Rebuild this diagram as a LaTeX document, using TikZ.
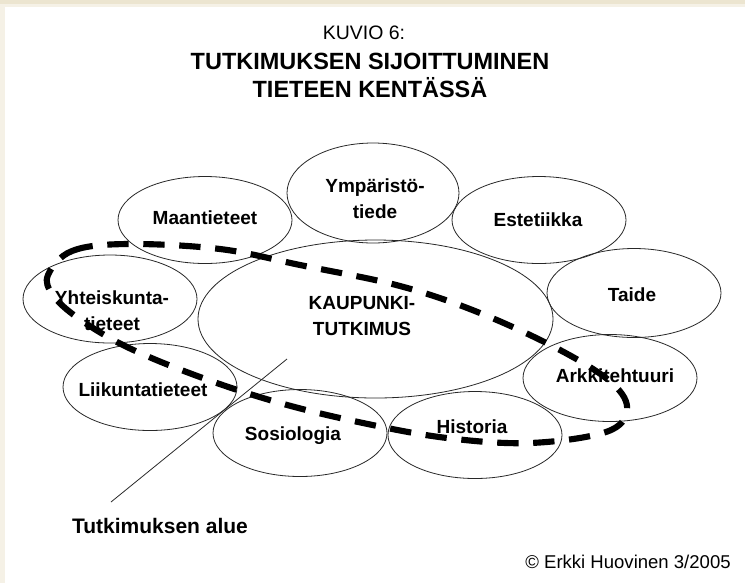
\documentclass[tikz,border=0pt]{standalone}
\usepackage{fontspec}
\setmainfont{Liberation Sans}
\usetikzlibrary{shapes.geometric}
\definecolor{framebeige}{RGB}{236,229,208}
\definecolor{framelight}{RGB}{245,241,230}
\definecolor{outline}{RGB}{40,40,40}
\tikzset{
  field/.style={draw=outline, line width=0.6pt, ellipse, inner sep=0pt,
    minimum width=130.5pt, minimum height=65.25pt},
  fieldtext/.style={font=\fontsize{14.25pt}{19.5pt}\selectfont\bfseries, align=center, inner sep=0pt},
  zone/.style={line width=4.6pt, dash pattern=on 16pt off 11pt, black},
  leader/.style={line width=0.6pt, outline},
}
\begin{document}
\begin{tikzpicture}[x=0.75pt,y=-0.75pt]
\useasboundingbox (0,0) rectangle (745,583);
\fill[white] (0,0) rectangle (745,583);
% frame
\fill[framelight] (0,0) rectangle (5,583);
\fill[framebeige] (0,0) rectangle (745,4);
\fill[framelight] (0,4) rectangle (745,7);

% title
\node[font=\fontsize{14.6pt}{16pt}\selectfont, inner sep=0pt] (kuvio) at (364,33) {KUVIO 6:};
\node[font=\fontsize{17.6pt}{21.5pt}\selectfont\bfseries, inner sep=0pt, align=center] (title) at (370,75.5)
  {TUTKIMUKSEN SIJOITTUMINEN\\TIETEEN KENTÄSSÄ};

% ellipses
\node[field, minimum width=266.25pt, minimum height=118.5pt] (ekaup) at (375.5,319) {};
\node[field, minimum width=129pt, minimum height=75pt] (eymp) at (373,193) {};
\node[field] (emaa) at (205,220) {};
\node[field] (eest) at (539,220) {};
\node[field, minimum height=66.75pt] (etai) at (634,293) {};
\node[field, minimum height=66pt] (eyht) at (110,299) {};
\node[field] (elii) at (150,387) {};
\node[field] (esos) at (300,433) {};
\node[field] (ehis) at (475,435) {};
\node[field] (eark) at (610,378) {};

% texts
\node[fieldtext] (tkaup) at (362,316) {KAUPUNKI-\\TUTKIMUS};
\node[fieldtext] (tymp) at (375,199) {Ympäristö-\\tiede};
\node[fieldtext] (tmaa) at (205,218) {Maantieteet};
\node[fieldtext] (test) at (538,220) {Estetiikka};
\node[fieldtext] (ttai) at (632,295) {Taide};
\node[fieldtext] (tyht) at (112,311) {Yhteiskunta-\\tieteet};
\node[fieldtext] (tlii) at (143,390) {Liikuntatieteet};
\node[fieldtext] (tsos) at (293,436) {Sosiologia};
\node[fieldtext] (this) at (472,427) {Historia};
\node[fieldtext] (tark) at (615,376) {Arkkitehtuuri};

% leader and label
\coordinate (lead) at (287,359);
\node[font=\fontsize{15.75pt}{18pt}\selectfont\bfseries, inner sep=0pt] (alue) at (160,526) {Tutkimuksen alue};
\coordinate (leadend) at (111,502);
\draw[leader] (lead) -- (leadend);

% copyright
\node[font=\fontsize{13.9pt}{16pt}\selectfont, inner sep=0pt] (copy) at (628,562) {© Erkki Huovinen 3/2005};

% research area (dashed loop)
\draw[zone] plot[smooth cycle, tension=0.6] coordinates {
  (48,275) (72,251) (127,244) (220,249) (300,265) (400,286) (480,313)
  (560,350) (612,383) (627,410) (606,432) (530,443) (447,438)
  (363,423) (280,403) (200,377) (127,347) (78,318) (53,295)};
\end{tikzpicture}
\end{document}
